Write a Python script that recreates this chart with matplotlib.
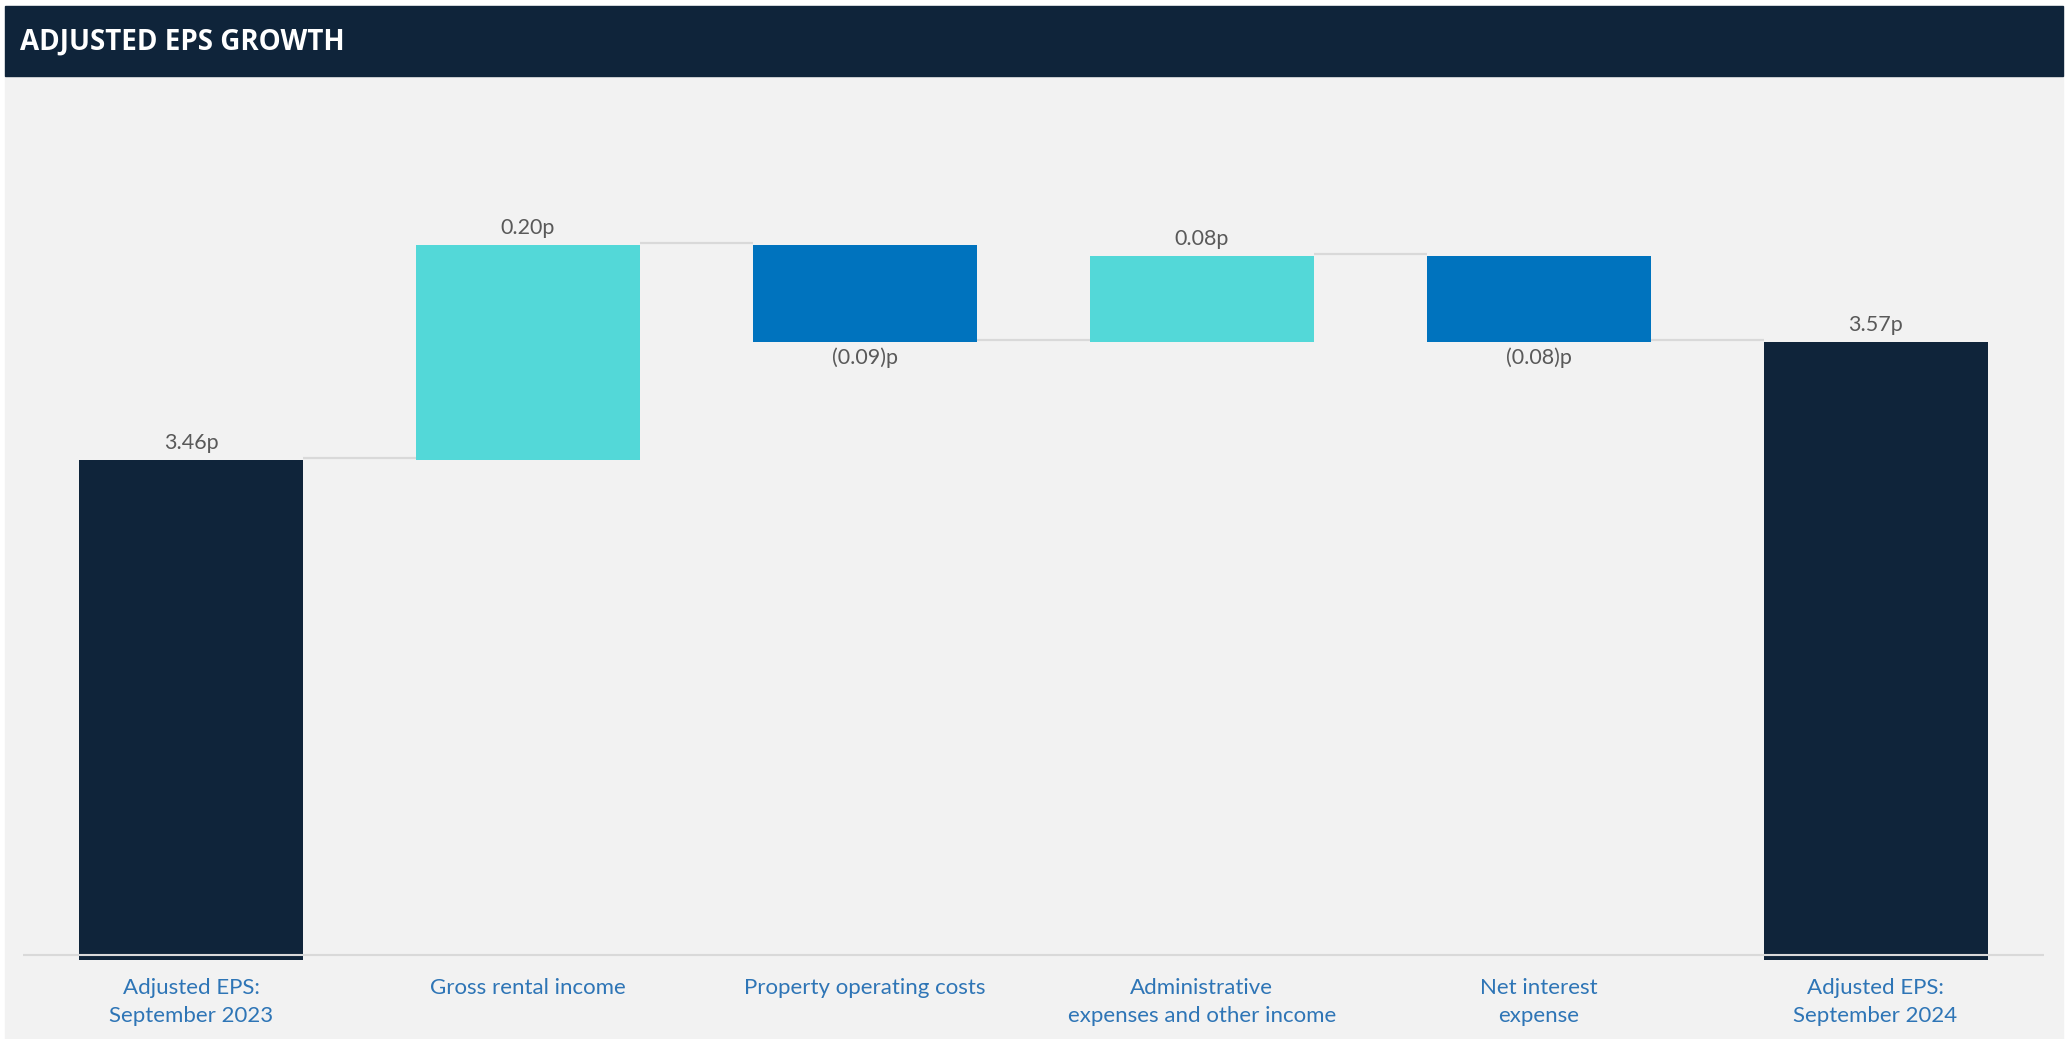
import matplotlib
matplotlib.use("Agg")
import matplotlib.pyplot as plt
from matplotlib.patches import Rectangle

# EPS bridge, pence per share
categories = [
    "Adjusted EPS:\nSeptember 2023",
    "Gross rental income",
    "Property operating costs",
    "Administrative\nexpenses and other income",
    "Net interest\nexpense",
    "Adjusted EPS:\nSeptember 2024",
]
start_eps = 3.46
movements = [0.20, -0.09, 0.08, -0.08]
end_eps = 3.57
value_labels = ["3.46p", "0.20p", "(0.09)p", "0.08p", "(0.08)p", "3.57p"]

NAVY = "#0F243A"
UP = "#53D8D8"
DOWN = "#0073BE"
PANEL = "#F2F2F2"
GRID = "#D9D9D9"
LABEL_BLUE = "#2E75B6"
VALUE_GREY = "#595959"
FONT = ["Lato", "DejaVu Sans"]

W, H = 2067, 1039
fig = plt.figure(figsize=(W / 100, H / 100), dpi=100)
fig.patch.set_facecolor("white")

# panel + header band (pixel coords from top-left)
def px_rect(x0, y0, x1, y1, color):
    fig.patches.append(Rectangle((x0 / W, 1 - y1 / H), (x1 - x0) / W, (y1 - y0) / H,
                                 transform=fig.transFigure, color=color, zorder=-10))

px_rect(5, 76, 2063, 1039, PANEL)
px_rect(5, 6, 2063, 76, NAVY)
fig.text(20 / W, 1 - 42 / H, "ADJUSTED EPS GROWTH", color="white", fontsize=20,
         fontweight="bold", family=["Open Sans", "DejaVu Sans"], va="center", ha="left")

# axes: baseline 3.0 sits at y=954px, 1075px per penny
y_lo, y_hi = 2.99, 3.80
base_px, per_unit = 954.5, 1075.0
bot_px = base_px + (3.0 - y_lo) * per_unit
top_px = base_px - (y_hi - 3.0) * per_unit
x0_px, x1_px = 22.5, 2044.0
ax = fig.add_axes([x0_px / W, 1 - bot_px / H, (x1_px - x0_px) / W, (bot_px - top_px) / H])
ax.set_facecolor("none")
ax.set_xlim(-0.5, 5.5)
ax.set_ylim(y_lo, y_hi)
for s in ax.spines.values():
    s.set_visible(False)
ax.set_yticks([])

bar_w = 0.665
floor = 2.995

# running totals for the floating bars
bottoms, tops, colors = [floor], [start_eps], [NAVY]
level = start_eps
for m in movements:
    new_level = level + m
    bottoms.append(min(level, new_level))
    tops.append(max(level, new_level))
    colors.append(UP if m > 0 else DOWN)
    level = new_level
bottoms.append(floor)
tops.append(end_eps)
colors.append(NAVY)

xs = list(range(len(categories)))
ax.bar(xs, [t - b for t, b in zip(tops, bottoms)], bottom=bottoms, width=bar_w,
       color=colors, zorder=2)

# connectors between bars
levels = [start_eps]
for m in movements:
    levels.append(levels[-1] + m)
for i, lv in enumerate(levels):
    ax.plot([i + bar_w / 2, i + 1 - bar_w / 2], [lv + 0.002, lv + 0.002],
            color=GRID, lw=1.6, solid_capstyle="butt", zorder=1)

ax.axhline(3.0, color=GRID, lw=1.5, zorder=3)

# value labels
signs = [1] + [1 if m > 0 else -1 for m in movements] + [1]
for i, (lab, sg) in enumerate(zip(value_labels, signs)):
    if sg > 0:
        ax.annotate(lab, (i, tops[i]), xytext=(0, 5), textcoords="offset points",
                    ha="center", va="bottom", color=VALUE_GREY, fontsize=15.5, family=FONT)
    else:
        ax.annotate(lab, (i, bottoms[i]), xytext=(0, -4), textcoords="offset points",
                    ha="center", va="top", color=VALUE_GREY, fontsize=15.5, family=FONT)

ax.set_xticks(xs)
ax.set_xticklabels(categories, color=LABEL_BLUE, fontsize=16, family=FONT,
                   linespacing=1.5)
ax.tick_params(axis="x", length=0, pad=9)

fig.savefig("out.png", dpi=100)
